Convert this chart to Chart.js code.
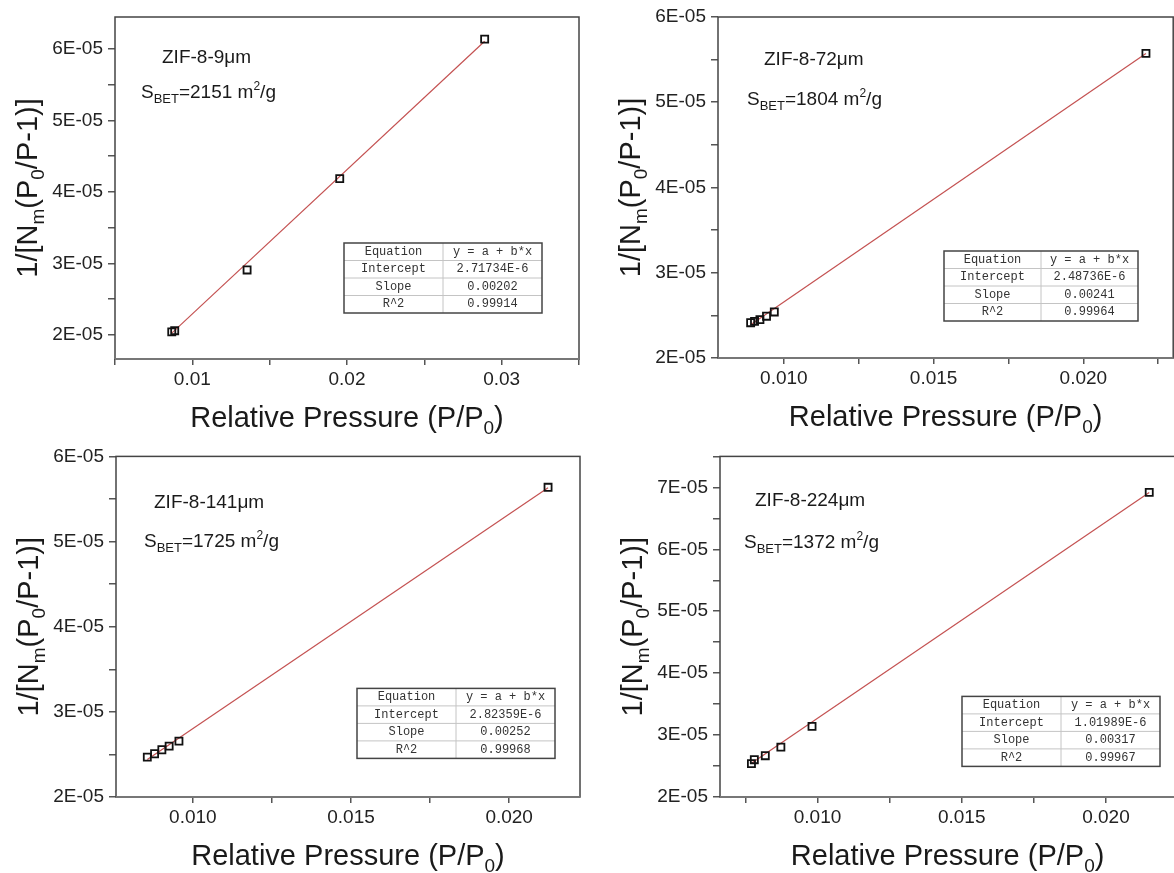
<!DOCTYPE html>
<html>
<head>
<meta charset="utf-8">
<script src="https://cdn.jsdelivr.net/npm/chart.js@4"></script>
<style>
  body { margin: 0; background: #fff; overflow: hidden; width: 1174px; height: 873px; position: relative; }
  canvas { position: absolute; }
</style>
</head>
<body>
<canvas id="c1" width="590" height="440" style="left:0;top:0"></canvas>
<canvas id="c2" width="580" height="440" style="left:600px;top:0"></canvas>
<canvas id="c3" width="590" height="433" style="left:0;top:440px"></canvas>
<canvas id="c4" width="582" height="433" style="left:600px;top:440px"></canvas>
<script>
// sample names and BET areas
const sampleNames = ['ZIF-8-9μm', 'ZIF-8-72μm', 'ZIF-8-141μm', 'ZIF-8-224μm'];
const surfaceAreas = ['2151', '1804', '1725', '1372'];

// measured points (P/P0, 1/[Nm(P0/P-1)])
const pressure9 = [0.00867, 0.00886, 0.01354, 0.01953, 0.0289];
const bet9 = [2.04e-5, 2.056e-5, 2.907e-5, 4.186e-5, 6.14e-5];
const pressure72 = [0.00889, 0.00902, 0.0092, 0.00942, 0.00968, 0.02209];
const bet72 = [2.414e-5, 2.43e-5, 2.45e-5, 2.49e-5, 2.54e-5, 5.574e-5];
const pressure141 = [0.00856, 0.00879, 0.00902, 0.00925, 0.00956, 0.02123];
const bet141 = [2.469e-5, 2.508e-5, 2.555e-5, 2.598e-5, 2.656e-5, 5.637e-5];
const pressure224 = [0.00771, 0.00781, 0.00819, 0.00873, 0.00981, 0.0215];
const bet224 = [2.538e-5, 2.602e-5, 2.667e-5, 2.806e-5, 3.14e-5, 6.919e-5];

// linear fit tables
const tableRows = ['Equation', 'Intercept', 'Slope', 'R^2'];
const equation = 'y = a + b*x';
const intercepts = ['2.71734E-6', '2.48736E-6', '2.82359E-6', '1.01989E-6'];
const slopes = ['0.00202', '0.00241', '0.00252', '0.00317'];
const rSquared = ['0.99914', '0.99964', '0.99968', '0.99967'];

// tick labels
const xLabels1 = ['0.01', '0.02', '0.03'];
const xLabels2 = ['0.010', '0.015', '0.020'];
const yLabels1 = ['2E-05', '3E-05', '4E-05', '5E-05', '6E-05'];
const yLabels2 = ['2E-05', '3E-05', '4E-05', '5E-05', '6E-05', '7E-05'];

const FONT = '"Liberation Sans", Arial, sans-serif';

// majors from labels, minors halfway (plus one step past each end)
function tickSet(labels, min, max) {
  const major = labels.map(parseFloat);
  const step = major[1] - major[0];
  const all = [major[0] - step / 2];
  major.forEach(v => { all.push(v); all.push(v + step / 2); });
  const eps = step * 1e-3;
  return all.filter(v => v >= min - eps && v <= max + eps);
}

function labelFor(labels, v) {
  const hit = labels.find(l => Math.abs(parseFloat(l) - v) < 1e-9);
  return hit || '';
}

// draw text made of pieces with sub/superscripts
function richText(ctx, parts, x, y, align) {
  let w = 0;
  parts.forEach(p => { ctx.font = p.s + 'px ' + FONT; w += ctx.measureText(p.t).width; });
  let cx = align === 'center' ? x - w / 2 : x;
  ctx.textAlign = 'left';
  ctx.textBaseline = 'alphabetic';
  parts.forEach(p => {
    ctx.font = p.s + 'px ' + FONT;
    ctx.fillText(p.t, cx, y + (p.dy || 0));
    cx += ctx.measureText(p.t).width;
  });
}

const panels = [
  { id: 'c1', x: pressure9, y: bet9, xmin: 0.005, xmax: 0.035, ymin: 1.66e-5, ymax: 6.45e-5,
    xl: xLabels1, yl: yLabels1, yw: 115, xh: 81, pad: { top: 17, right: 11 },
    name: [47, 46], sbet: [26, 81], table: [229, 226, 198] },
  { id: 'c2', x: pressure72, y: bet72, xmin: 0.0078, xmax: 0.023, ymin: 2e-5, ymax: 6e-5,
    xl: xLabels2, yl: yLabels1, yw: 118, xh: 82, pad: { top: 17, right: 0 },
    name: [46, 48], sbet: [29, 88], table: [226, 234, 194] },
  { id: 'c3', x: pressure141, y: bet141, xmin: 0.00757, xmax: 0.02224, ymin: 2e-5, ymax: 6e-5,
    xl: xLabels2, yl: yLabels1, yw: 116, xh: 76, pad: { top: 16, right: 10 },
    name: [38, 52], sbet: [28, 91], table: [241, 232, 198] },
  { id: 'c4', x: pressure224, y: bet224, xmin: 0.00662, xmax: 0.0224, ymin: 2e-5, ymax: 7.5e-5,
    xl: xLabels2, yl: yLabels2, yw: 120, xh: 76, pad: { top: 16, right: 0 },
    name: [35, 50], sbet: [24, 92], table: [242, 240, 198] }
];

panels.forEach((p, k) => {
  const a = parseFloat(intercepts[k]), b = parseFloat(slopes[k]);
  const x0 = Math.min(...p.x), x1 = Math.max(...p.x);
  const fit = [{ x: x0, y: a + b * x0 }, { x: x1, y: a + b * x1 }];
  const xt = tickSet(p.xl, p.xmin, p.xmax);
  const yt = tickSet(p.yl, p.ymin, p.ymax);

  const decor = {
    id: 'decor' + k,
    afterDraw(chart) {
      const ctx = chart.ctx, ca = chart.chartArea;
      ctx.save();
      // frame
      ctx.strokeStyle = '#444';
      ctx.lineWidth = 1.5;
      ctx.strokeRect(ca.left, ca.top, ca.right - ca.left, ca.bottom - ca.top);
      ctx.strokeStyle = '#777';
      ctx.lineWidth = 2;
      ctx.beginPath(); ctx.moveTo(ca.left, ca.bottom); ctx.lineTo(ca.right, ca.bottom); ctx.stroke();

      ctx.fillStyle = '#1a1a1a';
      // x title
      richText(ctx, [{ t: 'Relative Pressure (P/P', s: 29 }, { t: '0', s: 19, dy: 7 }, { t: ')', s: 29 }],
        (ca.left + ca.right) / 2, ca.bottom + 68, 'center');
      // y title
      ctx.save();
      ctx.translate(ca.left - 78, (ca.top + ca.bottom) / 2);
      ctx.rotate(-Math.PI / 2);
      richText(ctx, [{ t: '1/[N', s: 29 }, { t: 'm', s: 19, dy: 7 }, { t: '(P', s: 29 }, { t: '0', s: 19, dy: 7 }, { t: '/P-1)]', s: 29 }],
        0, 0, 'center');
      ctx.restore();

      // sample label and BET area
      richText(ctx, [{ t: sampleNames[k], s: 19 }], ca.left + p.name[0], ca.top + p.name[1], 'left');
      richText(ctx, [{ t: 'S', s: 19 }, { t: 'BET', s: 13, dy: 5 }, { t: '=' + surfaceAreas[k] + ' m', s: 19 },
        { t: '2', s: 12, dy: -8 }, { t: '/g', s: 19 }], ca.left + p.sbet[0], ca.top + p.sbet[1], 'left');

      // fit table
      const tx = ca.left + p.table[0], ty = ca.top + p.table[1], tw = p.table[2], th = 70, rh = th / 4;
      const vals = [equation, intercepts[k], slopes[k], rSquared[k]];
      ctx.fillStyle = '#fff';
      ctx.fillRect(tx, ty, tw, th);
      ctx.strokeStyle = '#c4c4c4';
      ctx.lineWidth = 1;
      ctx.beginPath();
      for (let i = 1; i < 4; i++) { ctx.moveTo(tx, ty + rh * i); ctx.lineTo(tx + tw, ty + rh * i); }
      ctx.moveTo(tx + tw / 2, ty); ctx.lineTo(tx + tw / 2, ty + th);
      ctx.stroke();
      ctx.strokeStyle = '#444';
      ctx.lineWidth = 1.5;
      ctx.strokeRect(tx, ty, tw, th);
      ctx.fillStyle = '#333';
      ctx.font = '12px "Liberation Mono", monospace';
      ctx.textAlign = 'center';
      ctx.textBaseline = 'middle';
      tableRows.forEach((r, i) => {
        ctx.fillText(r, tx + tw / 4, ty + rh * (i + 0.5));
        ctx.fillText(vals[i], tx + tw * 3 / 4, ty + rh * (i + 0.5));
      });
      ctx.restore();
    }
  };

  new Chart(document.getElementById(p.id), {
    type: 'scatter',
    data: {
      datasets: [
        { data: p.x.map((v, i) => ({ x: v, y: p.y[i] })), pointStyle: 'rect', pointRadius: 5,
          borderColor: '#111', backgroundColor: 'rgba(255,255,255,0)', borderWidth: 1.8, order: 1 },
        { data: fit, showLine: true, pointRadius: 0, borderColor: 'rgb(196,82,82)', borderWidth: 1.2, order: 2 }
      ]
    },
    options: {
      responsive: false,
      animation: false,
      devicePixelRatio: 1,
      layout: { padding: { top: p.pad.top, right: p.pad.right, left: 0, bottom: 0 } },
      plugins: { legend: { display: false }, tooltip: { enabled: false } },
      scales: {
        x: {
          type: 'linear', min: p.xmin, max: p.xmax,
          afterBuildTicks: s => { s.ticks = xt.map(v => ({ value: v })); },
          afterFit: s => { s.height = p.xh; },
          border: { display: false },
          grid: { drawOnChartArea: false, tickLength: 6, color: '#555', lineWidth: 1.5 },
          ticks: { autoSkip: false, maxRotation: 0, padding: 3, color: '#222',
            font: { family: FONT, size: 19 }, callback: v => labelFor(p.xl, v) }
        },
        y: {
          type: 'linear', min: p.ymin, max: p.ymax,
          afterBuildTicks: s => { s.ticks = yt.map(v => ({ value: v })); },
          afterFit: s => { s.width = p.yw; },
          border: { display: false },
          grid: { drawOnChartArea: false, tickLength: 7, color: '#555', lineWidth: 1.5 },
          ticks: { autoSkip: false, padding: 5, color: '#222',
            font: { family: FONT, size: 19 }, callback: v => labelFor(p.yl, v) }
        }
      }
    },
    plugins: [decor]
  });
});
</script>
</body>
</html>
